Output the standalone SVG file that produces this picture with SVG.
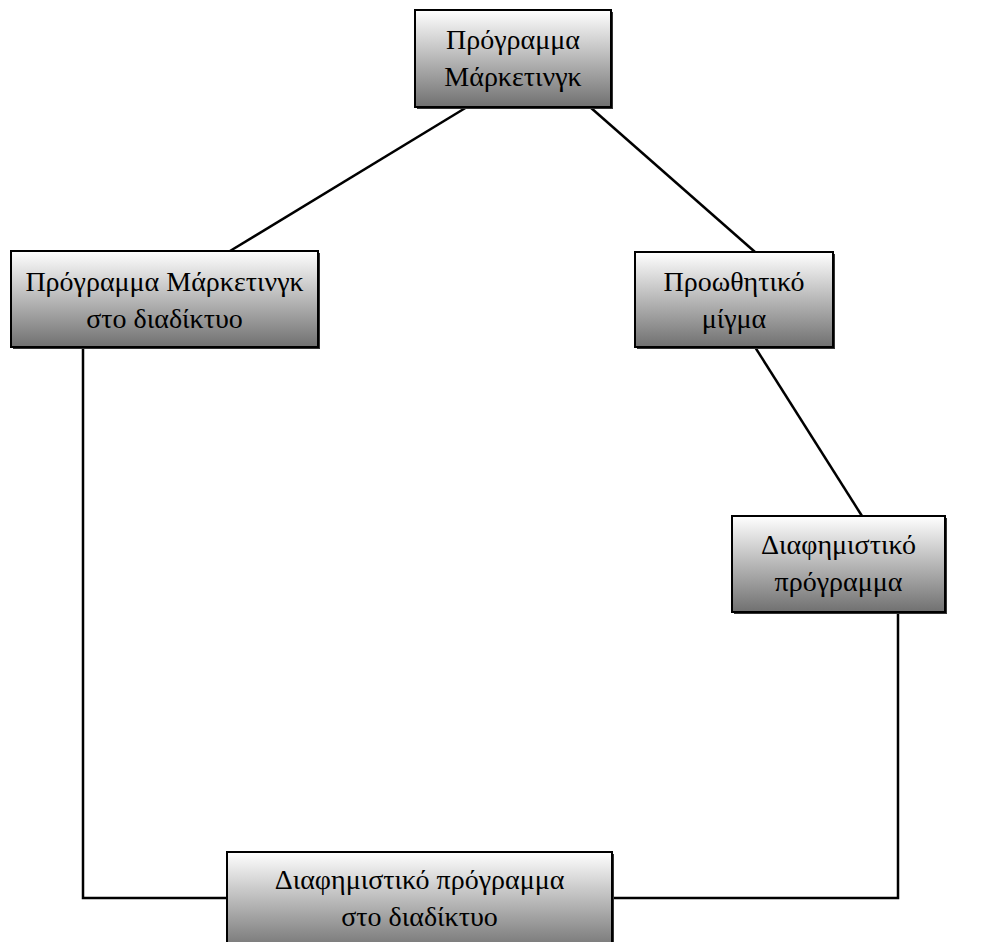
<svg xmlns="http://www.w3.org/2000/svg" width="989" height="942" viewBox="0 0 989 942">
<defs>
<linearGradient id="g" x1="0" y1="0" x2="0" y2="1">
<stop offset="0" stop-color="#ffffff"/>
<stop offset="1" stop-color="#707070"/>
</linearGradient>
<style>
.box{fill:url(#g);stroke:#000;stroke-width:2}
.sh{fill:#333}
.t{font-family:"Liberation Serif","Times New Roman",serif;font-size:28px;fill:#000;text-anchor:middle}
.c{fill:none;stroke:#000;stroke-width:2.5}
</style>
</defs>
<rect width="989" height="942" fill="#fff"/>
<g id="connectors">
<line class="c" x1="467" y1="107" x2="230" y2="251"/>
<line class="c" x1="590" y1="107" x2="755" y2="252"/>
<line class="c" x1="755" y1="347" x2="862" y2="516"/>
<polyline class="c" points="83,347 83,898 227,898"/>
<polyline class="c" points="898,612 898,898 612,898"/>
</g>
<g id="n1">
<rect class="sh" x="417" y="12" width="196" height="97"/>
<rect class="box" x="415" y="10" width="196" height="97"/>
<text class="t" x="513" y="49">Πρόγραμμα</text>
<text class="t" x="513" y="86">Μάρκετινγκ</text>
</g>
<g id="n2">
<rect class="sh" x="13" y="253" width="307" height="96"/>
<rect class="box" x="11" y="251" width="307" height="96"/>
<text class="t" x="164.5" y="291">Πρόγραμμα Μάρκετινγκ</text>
<text class="t" x="164.5" y="328">στο διαδίκτυο</text>
</g>
<g id="n3">
<rect class="sh" x="637" y="254" width="198" height="95"/>
<rect class="box" x="635" y="252" width="198" height="95"/>
<text class="t" x="734" y="291">Προωθητικό</text>
<text class="t" x="734" y="328">μίγμα</text>
</g>
<g id="n4">
<rect class="sh" x="734" y="518" width="213" height="96"/>
<rect class="box" x="732" y="516" width="213" height="96"/>
<text class="t" x="838.5" y="554">Διαφημιστικό</text>
<text class="t" x="838.5" y="591">πρόγραμμα</text>
</g>
<g id="n5">
<rect class="sh" x="229" y="854" width="385" height="100"/>
<rect class="box" x="227" y="852" width="385" height="100"/>
<text class="t" x="419.5" y="889">Διαφημιστικό πρόγραμμα</text>
<text class="t" x="419.5" y="926">στο διαδίκτυο</text>
</g>
</svg>
